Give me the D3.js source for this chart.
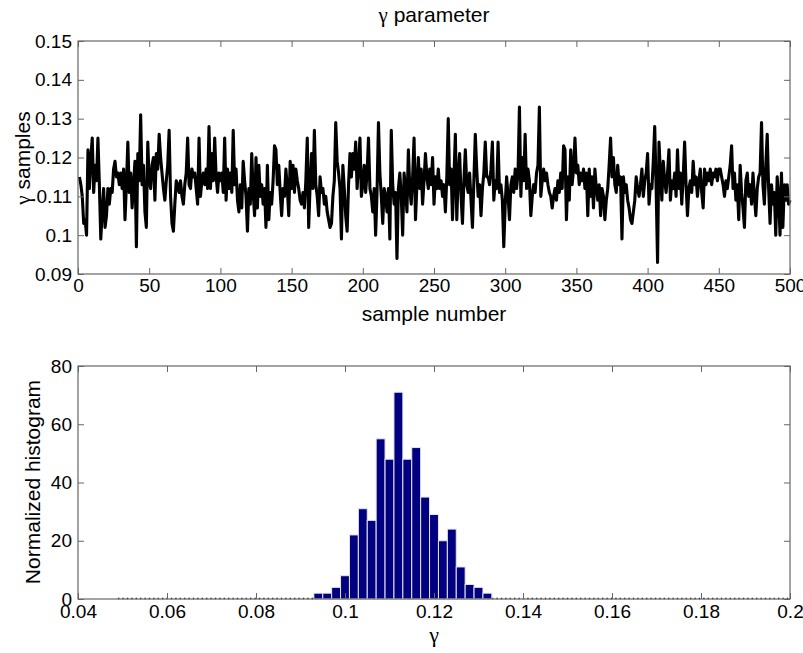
<!DOCTYPE html>
<meta charset="utf-8">
<title>gamma parameter</title>
<style>

body {
  margin: 0;
  background: #fff;
}

text {
  font-family: "Liberation Sans", Arial, sans-serif;
  fill: #000;
}

.greek {
  font-family: "Liberation Serif", "DejaVu Serif", serif;
}

</style>
<body>
  <script src="https://d3js.org/d3.v7.min.js"></script>
  <script>

  const width = 803;
  const height = 653;

  // gamma trace, samples 1..500
  const gammaSamples = [
    0.115,0.113,0.110,0.103,0.104,0.100,0.122,0.112,0.120,0.125,0.111,0.118,0.114,0.125,0.113,0.099,0.106,0.112,0.102,0.105,0.112,0.108,0.112,0.111,0.117,
    0.119,0.115,0.116,0.113,0.116,0.112,0.117,0.104,0.113,0.124,0.111,0.116,0.107,0.113,0.119,0.097,0.121,0.114,0.131,0.113,0.118,0.106,0.102,0.124,0.114,
    0.112,0.118,0.120,0.109,0.121,0.117,0.126,0.120,0.116,0.112,0.109,0.114,0.118,0.127,0.110,0.103,0.101,0.108,0.114,0.113,0.111,0.114,0.110,0.108,0.113,
    0.116,0.125,0.113,0.112,0.117,0.115,0.116,0.112,0.108,0.125,0.110,0.114,0.116,0.113,0.117,0.112,0.128,0.112,0.121,0.114,0.125,0.115,0.111,0.116,0.114,
    0.116,0.111,0.125,0.109,0.117,0.112,0.116,0.111,0.127,0.113,0.117,0.109,0.106,0.113,0.107,0.119,0.114,0.110,0.101,0.112,0.108,0.121,0.111,0.105,0.120,
    0.107,0.118,0.110,0.113,0.108,0.112,0.102,0.118,0.104,0.111,0.108,0.114,0.123,0.122,0.113,0.118,0.111,0.105,0.112,0.110,0.117,0.112,0.105,0.119,0.112,
    0.118,0.111,0.117,0.114,0.112,0.109,0.108,0.111,0.107,0.114,0.125,0.102,0.113,0.121,0.112,0.127,0.113,0.110,0.105,0.115,0.111,0.112,0.108,0.110,0.106,
    0.104,0.102,0.103,0.110,0.114,0.129,0.119,0.116,0.112,0.099,0.118,0.112,0.105,0.101,0.113,0.121,0.115,0.121,0.117,0.124,0.112,0.118,0.125,0.110,0.113,
    0.118,0.111,0.116,0.125,0.112,0.110,0.106,0.112,0.100,0.111,0.129,0.116,0.110,0.103,0.112,0.110,0.106,0.112,0.099,0.127,0.113,0.108,0.111,0.094,0.112,
    0.116,0.110,0.100,0.116,0.112,0.106,0.122,0.112,0.108,0.115,0.125,0.104,0.113,0.120,0.112,0.117,0.108,0.114,0.121,0.115,0.112,0.117,0.113,0.120,0.108,
    0.115,0.112,0.117,0.112,0.114,0.110,0.113,0.106,0.115,0.130,0.113,0.117,0.104,0.115,0.126,0.104,0.116,0.121,0.110,0.103,0.114,0.122,0.113,0.111,0.116,
    0.109,0.102,0.114,0.126,0.117,0.110,0.113,0.105,0.112,0.116,0.124,0.115,0.115,0.113,0.117,0.124,0.109,0.114,0.112,0.124,0.111,0.113,0.109,0.097,0.108,
    0.115,0.110,0.104,0.113,0.115,0.111,0.117,0.112,0.116,0.133,0.110,0.120,0.114,0.126,0.112,0.117,0.114,0.105,0.110,0.113,0.111,0.116,0.118,0.133,0.110,
    0.114,0.117,0.114,0.116,0.113,0.111,0.110,0.107,0.110,0.112,0.109,0.114,0.111,0.116,0.112,0.123,0.122,0.104,0.115,0.109,0.122,0.113,0.117,0.125,0.116,
    0.118,0.113,0.116,0.114,0.117,0.112,0.116,0.105,0.117,0.110,0.115,0.107,0.117,0.112,0.109,0.113,0.105,0.112,0.110,0.104,0.109,0.112,0.118,0.125,0.115,
    0.120,0.113,0.111,0.118,0.113,0.115,0.099,0.115,0.111,0.113,0.109,0.107,0.104,0.103,0.106,0.109,0.115,0.112,0.110,0.113,0.117,0.110,0.114,0.116,0.121,
    0.108,0.113,0.112,0.119,0.128,0.112,0.093,0.124,0.116,0.109,0.119,0.114,0.111,0.116,0.122,0.109,0.114,0.112,0.116,0.110,0.122,0.112,0.116,0.108,0.115,
    0.124,0.113,0.105,0.112,0.114,0.111,0.119,0.113,0.115,0.110,0.114,0.117,0.111,0.107,0.117,0.113,0.116,0.114,0.117,0.113,0.116,0.115,0.117,0.114,0.117,
    0.117,0.115,0.113,0.110,0.114,0.112,0.115,0.118,0.123,0.112,0.116,0.109,0.113,0.104,0.118,0.111,0.107,0.102,0.114,0.116,0.110,0.113,0.108,0.116,0.110,
    0.105,0.112,0.115,0.116,0.129,0.113,0.108,0.118,0.126,0.112,0.103,0.113,0.108,0.111,0.100,0.115,0.110,0.100,0.116,0.102,0.113,0.109,0.113,0.108,0.109
  ];

  // histogram: bin centres and heights
  const binCenters = [0.094,0.096,0.098,0.100,0.102,0.104,0.106,0.108,0.110,0.112,
                      0.114,0.116,0.118,0.120,0.122,0.124,0.126,0.128,0.130,0.132];
  const binHeights = [2,2,4,8,22,31,27,55,48,71,48,52,35,29,20,24,11,5,4,2];
  const binWidth = 0.002;
  const emptyRange = [0.049, 0.2];  // zero bins drawn along the baseline

  const topXTicks = [0,50,100,150,200,250,300,350,400,450,500];
  const topYTicks = [0.09,0.1,0.11,0.12,0.13,0.14,0.15];
  const botXTicks = [0.04,0.06,0.08,0.1,0.12,0.14,0.16,0.18,0.2];
  const botYTicks = [0,20,40,60,80];

  const svg = d3.select("body").append("svg")
      .attr("width", width)
      .attr("height", height);

  const left = 78, right = 790;
  const tickLen = 6;
  const boxColor = "#666";

  // draws the MATLAB-style box with inward ticks on all sides
  const drawFrame = (g, x, y, xt, yt, xPad) => {
    const [y0, y1] = y.range();
    g.append("g")
        .attr("transform", "translate(0," + y0 + ")")
        .call(d3.axisBottom(x).tickValues(xt).tickSize(-tickLen).tickPadding(xPad).tickFormat(String))
        .call(a => a.select(".domain").remove());
    g.append("g")
        .attr("transform", "translate(0," + y1 + ")")
        .call(d3.axisTop(x).tickValues(xt).tickSize(-tickLen).tickFormat(""))
        .call(a => a.select(".domain").remove());
    g.append("g")
        .attr("transform", "translate(" + left + ",0)")
        .call(d3.axisLeft(y).tickValues(yt).tickSize(-tickLen).tickPadding(6).tickFormat(String))
        .call(a => a.select(".domain").remove());
    g.append("g")
        .attr("transform", "translate(" + right + ",0)")
        .call(d3.axisRight(y).tickValues(yt).tickSize(-tickLen).tickFormat(""))
        .call(a => a.select(".domain").remove());
    g.selectAll(".tick line").attr("stroke", boxColor);
    g.selectAll(".tick text").attr("font-size", 19).attr("fill", "#000")
        .attr("font-family", "Liberation Sans, Arial, sans-serif");
    g.append("rect")
        .attr("x", left).attr("y", y1)
        .attr("width", right - left).attr("height", y0 - y1)
        .attr("fill", "none").attr("stroke", boxColor).attr("stroke-width", 1.2);
  };

  /* top panel: trace */
  const x1 = d3.scaleLinear().domain([0, 500]).range([left, right]);
  const y1 = d3.scaleLinear().domain([0.09, 0.15]).range([274, 41]);

  const topPanel = svg.append("g");

  topPanel.append("path")
      .datum(gammaSamples)
      .attr("fill", "none")
      .attr("stroke", "#000")
      .attr("stroke-width", 3.1)
      .attr("stroke-linejoin", "round")
      .attr("d", d3.line().x((d, i) => x1(i + 1)).y(d => y1(d)));

  drawFrame(topPanel, x1, y1, topXTicks, topYTicks, 5);

  const title = topPanel.append("text")
      .attr("x", 434).attr("y", 22)
      .attr("text-anchor", "middle")
      .attr("font-size", 21);
  title.append("tspan").attr("class", "greek").text("γ");
  title.append("tspan").text(" parameter");

  topPanel.append("text")
      .attr("x", 434).attr("y", 321)
      .attr("text-anchor", "middle")
      .attr("font-size", 21)
      .text("sample number");

  const yl = topPanel.append("text")
      .attr("transform", "translate(30,158)rotate(-90)")
      .attr("text-anchor", "middle")
      .attr("font-size", 21);
  yl.append("tspan").attr("class", "greek").text("γ");
  yl.append("tspan").text(" samples");

  /* bottom panel: histogram */
  const x2 = d3.scaleLinear().domain([0.04, 0.2]).range([left, right]);
  const y2 = d3.scaleLinear().domain([0, 80]).range([599, 366]);

  const botPanel = svg.append("g");

  botPanel.append("line")
      .attr("x1", x2(emptyRange[0])).attr("x2", x2(emptyRange[1]))
      .attr("y1", y2(0) - 0.5).attr("y2", y2(0) - 0.5)
      .attr("stroke", "#000")
      .attr("stroke-width", 1.3)
      .attr("stroke-dasharray", "1.3,3.1");

  botPanel.selectAll("rect.bar")
      .data(binCenters)
    .enter().append("rect")
      .attr("class", "bar")
      .attr("x", d => x2(d - binWidth / 2))
      .attr("width", d => x2(d + binWidth / 2) - x2(d - binWidth / 2))
      .attr("y", (d, i) => y2(binHeights[i]))
      .attr("height", (d, i) => y2(0) - y2(binHeights[i]))
      .attr("fill", "#000080")
      .attr("stroke", "#e6e6e6")
      .attr("stroke-width", 1);

  drawFrame(botPanel, x2, y2, botXTicks, botYTicks, 6);

  botPanel.append("text")
      .attr("class", "greek")
      .attr("x", 434).attr("y", 642)
      .attr("text-anchor", "middle")
      .attr("font-size", 22)
      .text("γ");

  botPanel.append("text")
      .attr("transform", "translate(40,482)rotate(-90)")
      .attr("text-anchor", "middle")
      .attr("font-size", 21)
      .text("Normalized histogram");

  </script>
</body>
